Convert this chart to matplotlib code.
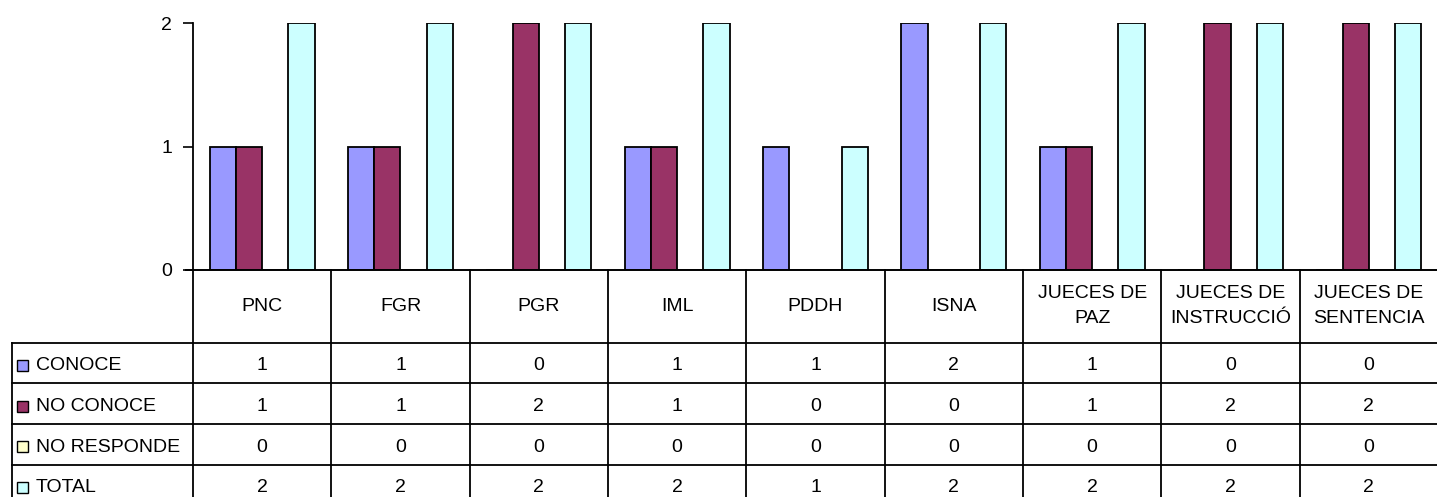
import matplotlib.pyplot as plt
import numpy as np

plt.rcParams['font.family'] = ['Liberation Sans', 'DejaVu Sans']

# Data
categories = ['PNC', 'FGR', 'PGR', 'IML', 'PDDH', 'ISNA', 'JUECES DE\nPAZ',
              'JUECES DE\nINSTRUCCIÓ', 'JUECES DE\nSENTENCIA']
series_names = ['CONOCE', 'NO CONOCE', 'NO RESPONDE', 'TOTAL']
conoce = [1, 1, 0, 1, 1, 2, 1, 0, 0]
no_conoce = [1, 1, 2, 1, 0, 0, 1, 2, 2]
no_responde = [0, 0, 0, 0, 0, 0, 0, 0, 0]
total = [2, 2, 2, 2, 1, 2, 2, 2, 2]
colors = ['#9999FF', '#993366', '#FFFFCC', '#CCFFFF']
yticks = [0, 1, 2]

W, H = 1437, 497
LEFT, RIGHT = 193, 1438
TOP, ZERO = 23, 270
ROW_TOP = 342.5
ROW_H = 40.7
LABEL_LEFT = 12
FS = 14

fig = plt.figure(figsize=(W / 100, H / 100), dpi=100)
ax = fig.add_axes([LEFT / W, (H - ZERO) / H, (RIGHT - LEFT) / W, (ZERO - TOP) / H])

series = [conoce, no_conoce, no_responde, total]
n = len(categories)
x = np.arange(n)
bw = 0.19
for i, vals in enumerate(series):
    ax.bar(x + (i - 1.5) * bw, vals, bw, color=colors[i], edgecolor='black', linewidth=1.3)

ax.set_xlim(-0.5, n - 0.5)
ax.set_ylim(0, 2)
ax.set_yticks(yticks)
ax.set_yticklabels([str(t) for t in yticks], fontsize=FS)
ax.set_xticks([])
ax.tick_params(axis='y', direction='out', length=7, width=1.2, pad=8)
for s in ['top', 'right', 'bottom']:
    ax.spines[s].set_visible(False)
ax.spines['left'].set_linewidth(1.3)

# table drawn in pixel coordinates
tb = fig.add_axes([0, 0, 1, 1], zorder=3)
tb.set_xlim(0, W)
tb.set_ylim(H, 0)
tb.axis('off')
tb.patch.set_alpha(0)

col_w = (RIGHT - LEFT) / n
nrows = len(series)
bottom = ROW_TOP + nrows * ROW_H
lw = 1.3
# x axis line
tb.plot([LEFT - 7, RIGHT], [ZERO, ZERO], color='black', lw=1.4)
# vertical lines for columns
for j in range(n + 1):
    xx = LEFT + j * col_w
    tb.plot([xx, xx], [ZERO, bottom], color='black', lw=lw)
# label column left border
tb.plot([LABEL_LEFT, LABEL_LEFT], [ROW_TOP, bottom], color='black', lw=lw)
# horizontal lines
for r in range(nrows + 1):
    yy = ROW_TOP + r * ROW_H
    tb.plot([LABEL_LEFT, RIGHT], [yy, yy], color='black', lw=lw)

# category headers
for j, c in enumerate(categories):
    tb.text(LEFT + (j + 0.5) * col_w, (ZERO + ROW_TOP) / 2, c, ha='center', va='center',
            fontsize=FS, linespacing=1.6)

# rows
for r, (name, vals) in enumerate(zip(series_names, series)):
    yc = ROW_TOP + (r + 0.5) * ROW_H
    tb.add_patch(plt.Rectangle((17, yc - 3), 11, 11, facecolor=colors[r],
                               edgecolor='black', lw=1.0))
    tb.text(36, yc + 3, name, ha='left', va='center', fontsize=FS)
    for j, v in enumerate(vals):
        tb.text(LEFT + (j + 0.5) * col_w, yc + 3, str(v), ha='center', va='center', fontsize=FS)

fig.savefig('out.png', dpi=100)
